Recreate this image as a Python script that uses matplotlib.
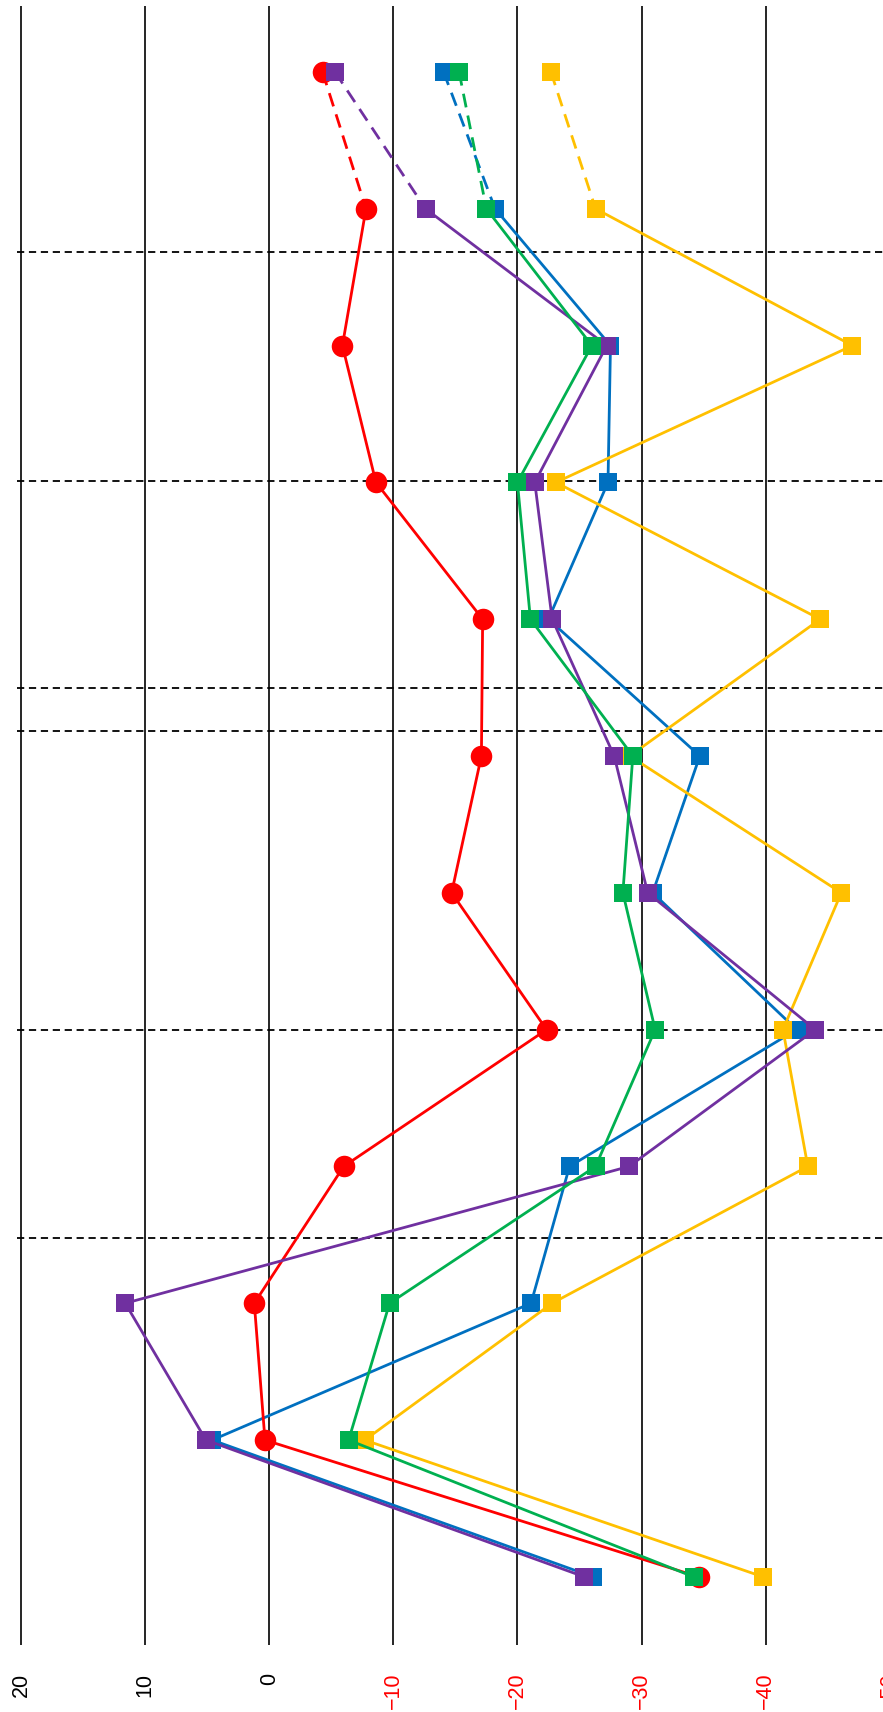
import numpy as np
import matplotlib.pyplot as plt

plt.rcParams['font.family'] = ['Liberation Sans', 'DejaVu Sans']

# rows from top to bottom of the (rotated) chart
rows = np.arange(12)

red = [-4.3, -7.8, -5.9, -8.6, -17.2, -17.1, -14.7, -22.35, -6.0, 1.2, 0.34, -34.6]
blue = [-14.05, -18.2, -27.5, -27.3, -22.5, -34.7, -30.9, -42.5, -24.2, -21.1, 4.6, -26.1]
green = [-15.3, -17.5, -26.0, -20.0, -21.05, -29.3, -28.5, -31.1, -26.3, -9.7, -6.4, -34.2]
yellow = [-22.7, -26.3, -47.0, -23.1, -44.4, -29.05, -46.1, -41.4, -43.4, -22.8, -7.7, -39.8]
purple = [-5.3, -12.6, -27.2, -21.4, -22.8, -27.8, -30.5, -44.0, -29.0, 11.6, 5.1, -25.4]

# dashed separators (in row units)
separators = [1.316, 2.99, 4.50, 4.82, 7.0, 8.52]

ticks = [20, 10, 0, -10, -20, -30, -40, -50]

fig = plt.figure(figsize=(8.83, 17.12), dpi=100)
ax = fig.add_axes([17 / 883, 1 - 1645 / 1712, 1.0, (1645 - 6) / 1712])

for y in separators:
    ax.axhline(y, color='black', lw=1.3, linestyle=(0, (4, 2.6)), zorder=1)

series = [
    (blue, '#0070C0', 's', 13),
    (yellow, '#FFC000', 's', 13),
    (red, '#FF0000', 'o', 15.5),
    (purple, '#7030A0', 's', 13),
    (green, '#00B050', 's', 13),
]

z = 3
for vals, col, mk, ms in series:
    vals = np.array(vals)
    # first segment is dashed, rest solid
    ax.plot(vals[:2], rows[:2], color=col, lw=2.0, linestyle=(0, (5, 3)), zorder=z)
    ax.plot(vals[1:], rows[1:], color=col, lw=2.0, zorder=z)
    ax.plot(vals, rows, linestyle='none', marker=mk, ms=ms, mew=0, color=col, zorder=z)
    z += 1

ax.set_xlim(20 + 4 / 12.41, 20 - 879 / 12.41)
ax.set_ylim(11.498, -0.482)
ax.set_xticks(ticks)
ax.set_xticklabels([str(t).replace('-', '\u2212') for t in ticks])
ax.set_yticks([])
ax.grid(axis='x', color='black', lw=1.2, zorder=0)
ax.tick_params(axis='x', length=0, pad=20, labelrotation=90, labelsize=15.5)
for lbl, t in zip(ax.get_xticklabels(), ticks):
    lbl.set_color('red' if t < 0 else 'black')
for s in ax.spines.values():
    s.set_visible(False)

plt.savefig('out.png', dpi=100)
